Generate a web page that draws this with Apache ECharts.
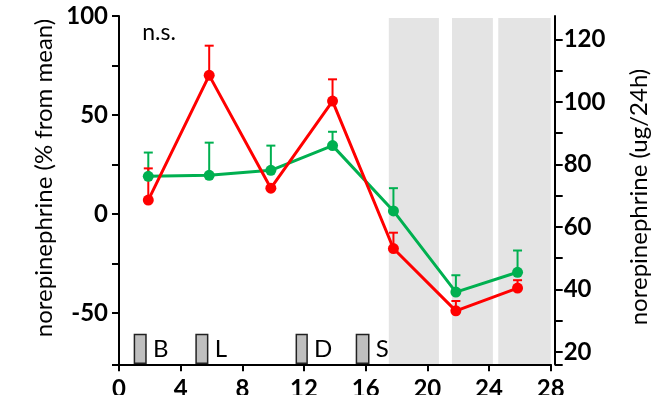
<!DOCTYPE html>
<html>
<head>
<meta charset="utf-8">
<script src="https://cdn.jsdelivr.net/npm/echarts@6/dist/echarts.min.js"></script>
<style>
  html, body { margin: 0; padding: 0; background: #fff; }
  #chart { width: 656px; height: 395px; }
</style>
</head>
<body>
<div id="chart"></div>
<script>
// Sampling times (h) and norepinephrine, % from mean, with upper SEM
const hours = [1.9, 5.85, 9.85, 13.85, 17.8, 21.85, 25.85];
const redMean = [7, 70, 13, 57, -17.5, -49, -37.5];
const redErr = [16, 15, 0, 11, 8, 5, 4];
const greenMean = [19, 19.5, 22, 34.5, 1.5, -39.5, -29.5];
const greenErr = [12, 16.5, 12.5, 7, 11.5, 8.5, 11];

// Shaded (dark) periods, hours
const shadeStart = [17.5, 21.6, 24.6];
const shadeEnd = [20.75, 24.25, 28];

// Meals: breakfast, lunch, dinner, snack
const mealStart = [1.0, 5.0, 11.5, 15.4];
const mealEnd = [1.75, 5.75, 12.2, 16.2];
const mealLabel = ['B', 'L', 'D', 'S'];

// Axis ticks and labels
const xTicks = [0, 4, 8, 12, 16, 20, 24, 28];
const leftTicks = [-76, -50, -25, 0, 25, 50, 75, 100];
const leftLabels = [-50, 0, 50, 100];
const rightTicks = [16, 20, 30, 40, 50, 60, 70, 80, 90, 100, 110, 120];
const rightLabels = [20, 40, 60, 80, 100, 120];

const RED = '#ff0000';
const GREEN = '#00b050';
const FONT = 'Lato, "DejaVu Sans", sans-serif';
const Y_MIN = -76, Y_MAX = 100;

const pairs = (xs, ys) => xs.map((x, i) => [x, ys[i]]);
const triples = (xs, ys, es) => xs.map((x, i) => [x, ys[i], es[i]]);

function errorBar(color) {
  return function (params, api) {
    const e = api.value(2);
    if (!e) return null;
    const p0 = api.coord([api.value(0), api.value(1)]);
    const p1 = api.coord([api.value(0), api.value(1) + e]);
    const hw = 4.5;
    const st = { stroke: color, lineWidth: 2 };
    return {
      type: 'group',
      children: [
        { type: 'line', shape: { x1: p0[0], y1: p0[1], x2: p1[0], y2: p1[1] }, style: st },
        { type: 'line', shape: { x1: p1[0] - hw, y1: p1[1], x2: p1[0] + hw, y2: p1[1] }, style: st }
      ]
    };
  };
}

const axisLineStyle = { color: '#000', width: 2 };
const tickLabelStyle = { color: '#000', fontSize: 24, fontWeight: 'bold', fontFamily: FONT };

const chart = echarts.init(document.getElementById('chart'), null, { renderer: 'canvas' });

chart.setOption({
  animation: false,
  backgroundColor: '#fff',
  grid: { left: 119, right: 105.3, top: 16, bottom: 30.7, containLabel: false, outerBoundsMode: 'none' },
  xAxis: {
    type: 'value', min: 0, max: 28, interval: 4,
    splitLine: { show: false },
    axisLine: { onZero: false, lineStyle: axisLineStyle },
    axisTick: { length: 7, lineStyle: { width: 2, color: '#000' }, customValues: xTicks },
    axisLabel: Object.assign({ margin: 13, customValues: xTicks }, tickLabelStyle)
  },
  yAxis: [
    {
      type: 'value', min: Y_MIN, max: Y_MAX, position: 'left',
      splitLine: { show: false },
      axisLine: { show: true, onZero: false, lineStyle: axisLineStyle },
      axisTick: { show: true, length: 7, lineStyle: { width: 2, color: '#000' }, customValues: leftTicks },
      axisLabel: Object.assign({ margin: 11, customValues: leftLabels }, tickLabelStyle)
    },
    {
      type: 'value', min: 16, max: 127.5, position: 'right', offset: 4,
      splitLine: { show: false },
      axisLine: { show: true, onZero: false, lineStyle: axisLineStyle },
      axisTick: { show: true, length: 8, lineStyle: { width: 2, color: '#000' }, customValues: rightTicks },
      axisLabel: Object.assign({ margin: 9, customValues: rightLabels }, tickLabelStyle)
    }
  ],
  graphic: [
    {
      type: 'text', x: 44, y: 178, rotation: Math.PI / 2,
      style: { text: 'norepinephrine (% from mean)', fill: '#000', font: '24px ' + FONT, textAlign: 'center', textVerticalAlign: 'middle' }
    },
    {
      type: 'text', x: 639, y: 197, rotation: Math.PI / 2,
      style: { text: 'norepinephrine (ug/24h)', fill: '#000', font: '24px ' + FONT, textAlign: 'center', textVerticalAlign: 'middle' }
    },
    {
      type: 'text', x: 159, y: 33,
      style: { text: 'n.s.', fill: '#000', font: '23px ' + FONT, textAlign: 'center', textVerticalAlign: 'middle' }
    }
  ],
  series: [
    {
      // dark-period shading
      type: 'custom', z: 0, silent: true,
      data: shadeStart.map((s, i) => [s, shadeEnd[i]]),
      renderItem: function (params, api) {
        const a = api.coord([api.value(0), 99]);
        const b = api.coord([api.value(1), Y_MIN]);
        return { type: 'rect', shape: { x: a[0], y: a[1], width: b[0] - a[0], height: b[1] - a[1] }, style: { fill: '#e4e4e4' } };
      }
    },
    {
      // meal markers
      type: 'custom', z: 1, silent: true,
      data: mealStart.map((s, i) => [s, mealEnd[i]]),
      renderItem: function (params, api) {
        const a = api.coord([api.value(0), -61]);
        const b = api.coord([api.value(1), Y_MIN]);
        const name = mealLabel[params.dataIndex];
        return {
          type: 'group',
          children: [
            { type: 'rect', shape: { x: a[0], y: a[1], width: b[0] - a[0], height: b[1] - a[1] - 1 }, style: { fill: '#bfbfbf', stroke: '#222', lineWidth: 1.5 } },
            { type: 'text', x: b[0] + 7, y: (a[1] + b[1]) / 2, style: { text: name, fill: '#000', font: '24px ' + FONT, textVerticalAlign: 'middle' } }
          ]
        };
      }
    },
    {
      type: 'custom', z: 2, silent: true,
      data: triples(hours, greenMean, greenErr),
      renderItem: errorBar(GREEN)
    },
    {
      type: 'custom', z: 2, silent: true,
      data: triples(hours, redMean, redErr),
      renderItem: errorBar(RED)
    },
    {
      type: 'line', z: 3, data: pairs(hours, greenMean),
      symbol: 'circle', symbolSize: 11,
      lineStyle: { color: GREEN, width: 3 }, itemStyle: { color: GREEN }
    },
    {
      type: 'line', z: 4, data: pairs(hours, redMean),
      symbol: 'circle', symbolSize: 11,
      lineStyle: { color: RED, width: 3 }, itemStyle: { color: RED }
    }
  ]
});
</script>
</body>
</html>
